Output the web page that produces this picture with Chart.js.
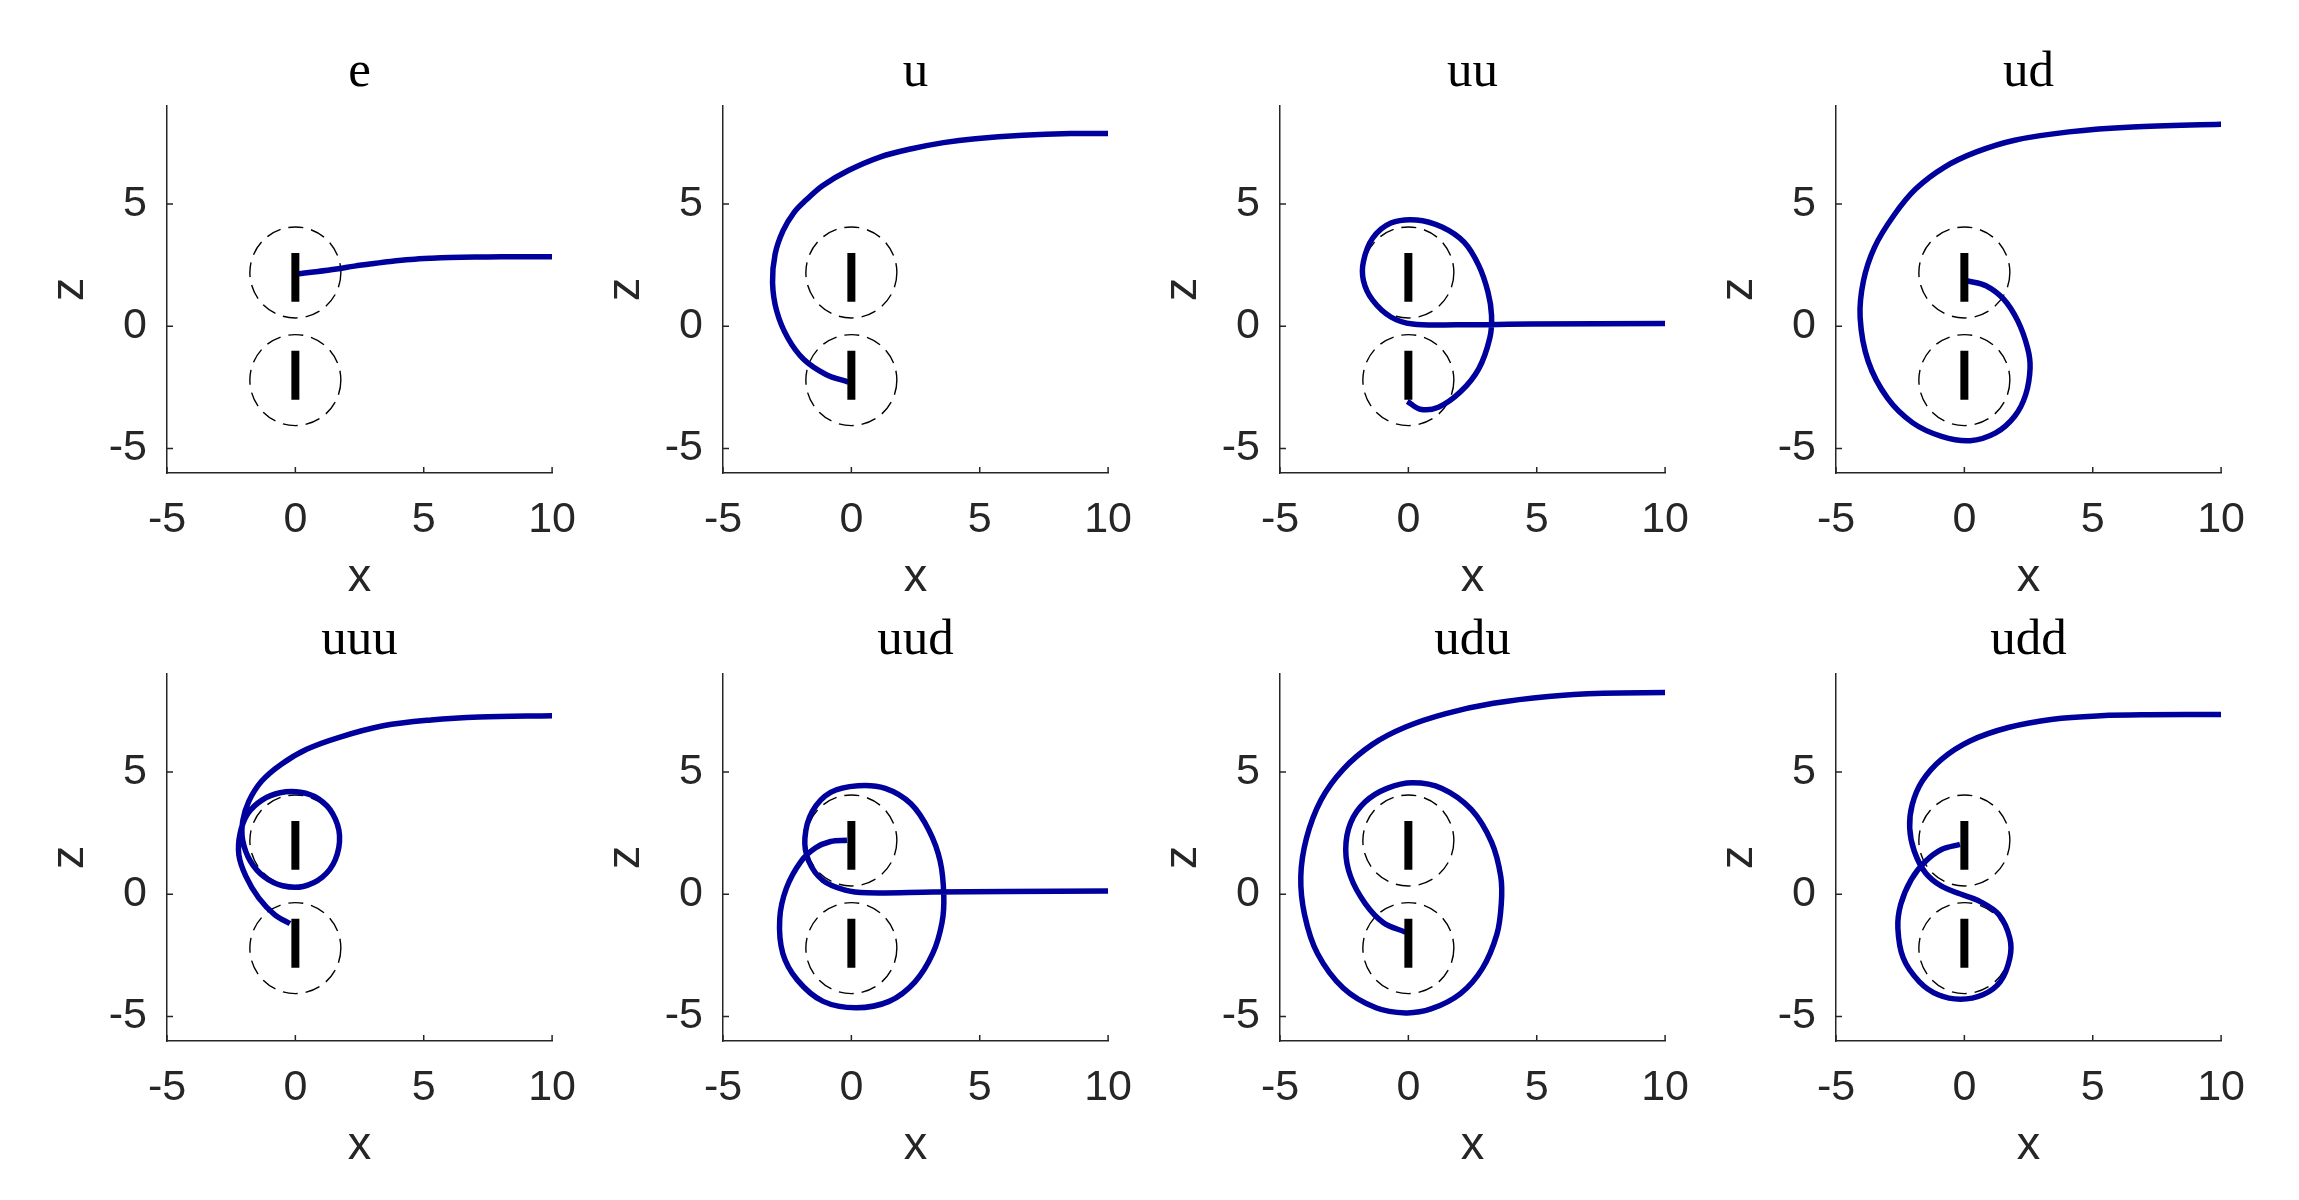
<!DOCTYPE html>
<html>
<head>
<meta charset="utf-8">
<script src="https://cdn.jsdelivr.net/npm/chart.js@4.4.1/dist/chart.umd.min.js"></script>
<style>
  body { margin: 0; background: #fff; width: 2299px; height: 1200px; position: relative; overflow: hidden; }
  canvas { position: absolute; }
</style>
</head>
<body>
<script>
const titles = ['e', 'u', 'uu', 'ud', 'uuu', 'uud', 'udu', 'udd'];
const xTicks = [-5, 0, 5, 10];
const zTicks = [-5, 0, 5];
const xRange = [-5, 10];
const zRange = [-6, 9];
// the two plates (z spans at x = 0) and the dashed circles round them
const plateSpans = [[1, 3], [-3, -1]];
const circleCentres = [2.2, -2.2];

// trajectories
const eX = [0.13, 0.8, 1.6, 2.3, 3.0, 3.7, 4.5, 5.3, 6.0, 7.0, 8.0, 9.0, 10];
const eZ = [2.15, 2.23, 2.34, 2.46, 2.56, 2.65, 2.73, 2.78, 2.81, 2.83, 2.84, 2.84, 2.84];

const uX = [-0.12, -0.99, -1.86, -2.48, -2.91, -3.07, -2.97, -2.66, -2.23, -1.79, -1.11, -0.12, 1.11, 2.35, 3.59, 4.83, 6.68, 8.54, 10];
const uZ = [-2.28, -1.97, -1.35, -0.47, 0.63, 1.79, 2.95, 3.91, 4.66, 5.14, 5.76, 6.37, 6.92, 7.26, 7.51, 7.67, 7.81, 7.88, 7.88];

const uuX = [-0.04, 0.46, 1.17, 2.03, 2.74, 3.17, 3.24, 3.1, 2.74, 2.17, 1.31, 0.31, -0.68, -1.4, -1.75, -1.75, -1.4, -0.68, 0.17, 1.88, 4.74, 10];
const uuZ = [-3.07, -3.39, -3.31, -2.68, -1.74, -0.49, 0.45, 1.4, 2.49, 3.44, 4.06, 4.35, 4.22, 3.59, 2.65, 1.87, 1.08, 0.38, 0.09, 0.06, 0.09, 0.11];

const udX = [0.12, 0.84, 1.53, 2.08, 2.46, 2.56, 2.39, 1.96, 1.22, 0.22, -0.89, -2.01, -3.0, -3.75, -4.06, -3.93, -3.5, -2.75, -1.89, -0.77, 0.47, 1.96, 4.07, 6.55, 10];
const udZ = [1.86, 1.66, 1.11, 0.22, -0.88, -1.7, -2.79, -3.68, -4.36, -4.68, -4.5, -3.95, -2.93, -1.42, 0.36, 1.86, 3.23, 4.53, 5.62, 6.51, 7.13, 7.61, 7.95, 8.15, 8.26];

const uuuX = [-0.21, -0.81, -1.43, -1.93, -2.2, -2.15, -1.85, -1.3, -0.6, 0.2, 0.9, 1.45, 1.72, 1.55, 1.05, 0.3, -0.5, -1.2, -1.75, -2.05, -2.05, -1.81, -1.31, -0.56, 0.44, 1.68, 3.42, 5.29, 7.16, 10];
const uuuZ = [-1.2, -0.83, -0.15, 0.74, 1.6, 2.5, 3.3, 3.85, 4.15, 4.17, 3.9, 3.3, 2.4, 1.4, 0.7, 0.32, 0.35, 0.7, 1.35, 2.2, 3.0, 3.81, 4.63, 5.31, 5.93, 6.41, 6.89, 7.13, 7.25, 7.3];

const uudX = [-0.17, -0.81, -1.39, -1.96, -2.53, -2.79, -2.67, -2.1, -1.1, 0.19, 1.47, 2.47, 3.17, 3.53, 3.6, 3.46, 3.03, 2.32, 1.32, 0.26, -0.81, -1.52, -1.81, -1.66, -1.1, -0.24, 0.61, 3.17, 6.02, 10];
const uudZ = [2.21, 2.16, 1.9, 1.35, 0.25, -1.0, -2.42, -3.51, -4.38, -4.64, -4.38, -3.59, -2.42, -1.16, -0.06, 1.35, 2.6, 3.7, 4.33, 4.44, 4.17, 3.39, 2.29, 1.35, 0.56, 0.17, 0.06, 0.09, 0.11, 0.13];

const uduX = [-0.11, -0.97, -1.68, -2.25, -2.44, -2.25, -1.68, -0.83, 0.17, 1.31, 2.45, 3.24, 3.6, 3.62, 3.45, 2.88, 2.03, 0.88, -0.11, -1.26, -2.54, -3.54, -4.04, -4.19, -3.97, -3.4, -2.54, -1.4, -0.11, 1.46, 3.31, 5.45, 7.59, 10];
const uduZ = [-1.55, -1.16, -0.38, 0.72, 1.82, 2.92, 3.78, 4.33, 4.56, 4.33, 3.47, 2.13, 0.72, -0.38, -1.63, -3.04, -4.06, -4.69, -4.85, -4.64, -3.83, -2.42, -0.85, 0.72, 2.29, 3.86, 5.11, 6.13, 6.84, 7.39, 7.81, 8.09, 8.22, 8.25];

const uddX = [-0.17, -0.89, -1.51, -2.07, -2.48, -2.59, -2.38, -1.76, -1.02, -0.15, 0.72, 1.4, 1.77, 1.77, 1.34, 0.6, -0.15, -0.89, -1.51, -1.95, -2.13, -2.03, -1.64, -0.89, 0.22, 1.71, 3.45, 5.31, 7.17, 10];
const uddZ = [2.04, 1.83, 1.35, 0.6, -0.42, -1.38, -2.61, -3.57, -4.11, -4.29, -4.11, -3.57, -2.61, -1.79, -0.83, -0.29, 0.01, 0.33, 0.87, 1.76, 2.72, 3.67, 4.63, 5.52, 6.27, 6.82, 7.16, 7.3, 7.34, 7.35];

const paths = [[eX, eZ], [uX, uZ], [uuX, uuZ], [udX, udZ], [uuuX, uuuZ], [uudX, uudZ], [uduX, uduZ], [uddX, uddZ]];

const ink = '#262626';
const trajColour = '#00009c';

Chart.defaults.font.family = '"Liberation Sans", Arial, sans-serif';
Chart.defaults.color = ink;
Chart.defaults.animation = false;

// matlab style ticks pointing into the axes
const inwardTicks = {
    id: 'inwardTicks',
    afterDatasetsDraw(chart) {
        const ctx = chart.ctx
        const a = chart.chartArea
        const xs = chart.scales.x, ys = chart.scales.y
        ctx.save()
        ctx.strokeStyle = ink
        ctx.lineWidth = 1.5
        ctx.beginPath()
        xTicks.forEach(v => {
            const p = xs.getPixelForValue(v)
            ctx.moveTo(p, a.bottom)
            ctx.lineTo(p, a.bottom - 6)
        })
        zTicks.forEach(v => {
            const p = ys.getPixelForValue(v)
            ctx.moveTo(a.left, p)
            ctx.lineTo(a.left + 6, p)
        })
        ctx.stroke()
        ctx.restore()
    }
}

// circles get a dashed outline
const dashedRings = {
    id: 'dashedRings',
    beforeDatasetDraw(chart, args) {
        if (chart.data.datasets[args.index].dashed) chart.ctx.setLineDash([15, 8])
    },
    afterDatasetDraw(chart, args) {
        if (chart.data.datasets[args.index].dashed) chart.ctx.setLineDash([])
    }
}

const colLeft = [17, 573, 1130, 1686];
const rowTop = [0, 568];

titles.forEach((t, i) => {
    const cv = document.createElement('canvas')
    cv.width = 582
    cv.height = 608
    cv.style.width = '582px'
    cv.style.height = '608px'
    cv.style.left = colLeft[i % 4] + 'px'
    cv.style.top = rowTop[Math.floor(i / 4)] + 'px'
    document.body.appendChild(cv)

    const [px, pz] = paths[i]

    new Chart(cv, {
        type: 'scatter',
        data: {
            datasets: [
                ...plateSpans.map(s => ({
                    data: s.map(z => ({x: 0, y: z})),
                    showLine: true,
                    borderColor: '#000',
                    borderWidth: 8,
                    borderCapStyle: 'butt',
                    pointRadius: 0
                })),
                {
                    data: px.map((x, k) => ({x: x, y: pz[k]})),
                    showLine: true,
                    borderColor: trajColour,
                    borderWidth: 5.5,
                    borderJoinStyle: 'round',
                    tension: 0.35,
                    pointRadius: 0
                },
                {
                    data: circleCentres.map(z => ({x: 0, y: z})),
                    dashed: true,
                    showLine: false,
                    pointRadius: 45.5,
                    pointBorderWidth: 1.4,
                    pointBorderColor: '#000',
                    pointBackgroundColor: 'rgba(0,0,0,0)'
                }
            ]
        },
        options: {
            responsive: false,
            events: [],
            layout: { padding: { right: 30 } },
            plugins: {
                legend: { display: false },
                tooltip: { enabled: false },
                title: {
                    display: true,
                    text: t,
                    fullSize: false,
                    color: '#000',
                    font: { family: '"Liberation Serif", "Times New Roman", serif', size: 51, weight: 'normal' },
                    padding: { top: 42, bottom: 3 }
                }
            },
            scales: {
                x: {
                    type: 'linear',
                    min: xRange[0],
                    max: xRange[1],
                    afterBuildTicks: s => { s.ticks = xTicks.map(v => ({value: v})) },
                    afterFit: s => { s.height = 135 },
                    grid: { display: false, drawTicks: false },
                    border: { color: ink, width: 1.5 },
                    ticks: { padding: 21, font: { size: 43 }, color: ink },
                    title: { display: true, text: 'x', color: ink, font: { size: 47 }, padding: { top: 0, bottom: 2 } }
                },
                y: {
                    type: 'linear',
                    min: zRange[0],
                    max: zRange[1],
                    afterBuildTicks: s => { s.ticks = zTicks.map(v => ({value: v})) },
                    afterFit: s => { s.width = 150 },
                    grid: { display: false, drawTicks: false },
                    border: { color: ink, width: 1.5 },
                    ticks: { padding: 20, font: { size: 43 }, color: ink },
                    title: { display: true, text: 'z', color: ink, font: { size: 47 }, padding: { top: 25, bottom: 0 } }
                }
            }
        },
        plugins: [inwardTicks, dashedRings]
    })
})
</script>
</body>
</html>
